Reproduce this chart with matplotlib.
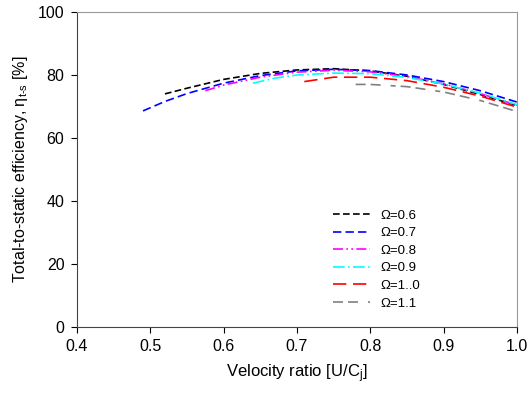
import matplotlib
matplotlib.use('Agg')
import matplotlib.pyplot as plt

plt.rcParams['font.family'] = ['Liberation Sans', 'DejaVu Sans']
plt.rcParams['mathtext.fontset'] = 'custom'
plt.rcParams['mathtext.rm'] = 'Liberation Sans'
plt.rcParams['mathtext.it'] = 'Liberation Sans'

# efficiency curves, one per omega
x_06 = [0.52, 0.55, 0.6, 0.65, 0.7, 0.75, 0.8, 0.85, 0.9, 0.95, 1.0]
y_06 = [74.0, 75.8, 78.6, 80.5, 81.6, 82.0, 81.3, 79.6, 77.0, 73.8, 70.3]
x_07 = [0.49, 0.52, 0.55, 0.6, 0.65, 0.7, 0.75, 0.8, 0.85, 0.9, 0.95, 1.0]
y_07 = [68.6, 71.6, 74.1, 77.4, 79.8, 81.3, 81.8, 81.4, 80.0, 77.9, 75.0, 71.4]
x_08 = [0.575, 0.6, 0.65, 0.7, 0.75, 0.8, 0.85, 0.9, 0.95, 1.0]
y_08 = [75.0, 76.8, 79.3, 80.9, 81.5, 81.0, 79.5, 77.2, 74.1, 70.4]
x_09 = [0.64, 0.67, 0.7, 0.75, 0.8, 0.85, 0.9, 0.95, 1.0]
y_09 = [77.4, 79.0, 80.0, 80.6, 80.4, 79.2, 77.1, 74.2, 70.6]
x_10 = [0.71, 0.75, 0.8, 0.85, 0.9, 0.95, 1.0]
y_10 = [77.9, 79.3, 79.3, 78.2, 76.1, 73.3, 69.8]
x_11 = [0.78, 0.8, 0.85, 0.9, 0.95, 1.0]
y_11 = [77.0, 77.0, 76.3, 74.6, 71.9, 68.4]

labels = ['Ω=0.6', 'Ω=0.7', 'Ω=0.8', 'Ω=0.9', 'Ω=1..0', 'Ω=1.1']

fig = plt.figure(figsize=(5.28, 3.93), dpi=100)
ax = fig.add_axes([0.1458, 0.168, 0.8333, 0.8015])

lw = 1.2
ax.plot(x_06, y_06, color='black', lw=lw, dashes=(4, 2), label=labels[0])
ax.plot(x_07, y_07, color='blue', lw=lw, dashes=(5, 2.5), label=labels[1])
ax.plot(x_08, y_08, color='magenta', lw=lw, dashes=(6, 2, 1, 2, 1, 2), label=labels[2])
ax.plot(x_09, y_09, color='cyan', lw=lw, dashes=(7, 2, 1, 2), label=labels[3])
ax.plot(x_10, y_10, color='red', lw=lw, dashes=(8, 4), label=labels[4])
ax.plot(x_11, y_11, color='gray', lw=lw, dashes=(6, 3, 6, 6, 3, 3), label=labels[5])

ax.set_xlim(0.4, 1.0)
ax.set_ylim(0, 100)
ax.set_xticks([0.4, 0.5, 0.6, 0.7, 0.8, 0.9, 1.0])
ax.set_yticks([0, 20, 40, 60, 80, 100])
ax.tick_params(direction='out', length=4, labelsize=11.5, pad=5)
for s in ax.spines.values():
    s.set_color('#444444')
ax.spines['top'].set_color('#999999')
ax.spines['right'].set_color('#999999')

ax.set_xlabel(r'Velocity ratio [U/C$_\mathregular{j}$]', fontsize=12, labelpad=6)
ax.set_ylabel('Total-to-static efficiency, η$_\\mathregular{t\u2010s}$ [%]', fontsize=11.5, labelpad=6)

ax.legend(loc='upper left', bbox_to_anchor=(0.555, 0.41), frameon=False,
          fontsize=9.5, handlelength=2.8, labelspacing=0.4, handletextpad=0.8)

fig.savefig('out.png', dpi=100)
